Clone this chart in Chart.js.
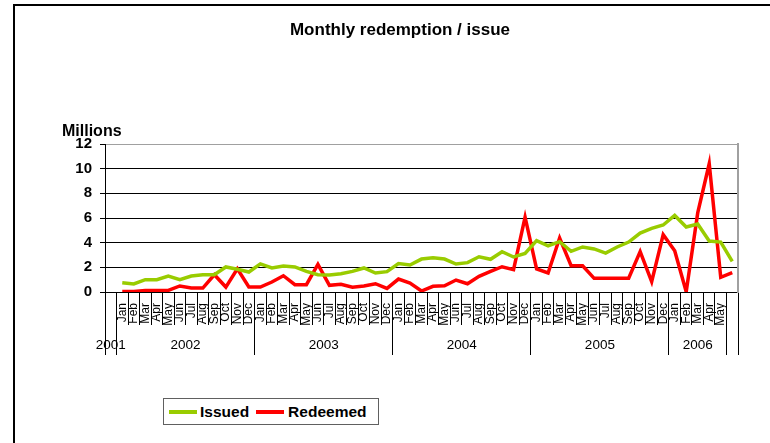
<!DOCTYPE html>
<html>
<head>
<meta charset="UTF-8">
<title>Monthly redemption / issue</title>
<script src="https://cdn.jsdelivr.net/npm/chart.js"></script>
<style>
  body { margin: 0; background: #fff; overflow: hidden; font-family: Arial, 'Liberation Sans', sans-serif; }
  #wrap { position: relative; width: 770px; height: 443px; overflow: hidden; }
  #frame { position: absolute; left: 13px; top: 4px; width: 800px; height: 500px; border-top: 2px solid #000; border-left: 2px solid #000; }
  #chart { position: absolute; left: 0; top: 0; }
  #legend { position: absolute; left: 163px; top: 398px; width: 214px; height: 25px; border: 1px solid #606060; background: #fff;
            display: flex; align-items: center; font-weight: bold; font-size: 15.5px; color: #000; }
  .sw { display: inline-block; width: 28px; height: 4px; }
</style>
</head>
<body>
<div id="wrap">
  <div id="frame"></div>
  <canvas id="chart" width="770" height="443"></canvas>
  <div id="legend"></div>
</div>
<script>
// categories: one blank slot for 2001, months 2002 - May 2006, one trailing blank slot
const months = ['',
  'Jan','Feb','Mar','Apr','May','Jun','Jul','Aug','Sep','Oct','Nov','Dec',
  'Jan','Feb','Mar','Apr','May','Jun','Jul','Aug','Sep','Oct','Nov','Dec',
  'Jan','Feb','Mar','Apr','May','Jun','Jul','Aug','Sep','Oct','Nov','Dec',
  'Jan','Feb','Mar','Apr','May','Jun','Jul','Aug','Sep','Oct','Nov','Dec',
  'Jan','Feb','Mar','Apr','May',
  ''];
const years = ['2001', '2002', '2003', '2004', '2005', '2006', ''];
const yearSpan = [1, 12, 12, 12, 12, 5, 1];

// values in millions
const issued = [null,
  0.75, 0.65, 1.0, 1.0, 1.3, 1.0, 1.3, 1.4, 1.4, 2.03, 1.85, 1.62,
  2.28, 1.95, 2.1, 2.03, 1.67, 1.4, 1.37, 1.48, 1.67, 1.95, 1.54, 1.65,
  2.3, 2.19, 2.67, 2.78, 2.67, 2.27, 2.38, 2.86, 2.65, 3.27, 2.84, 3.12,
  4.16, 3.75, 4.08, 3.3, 3.65, 3.49, 3.16, 3.65, 4.05, 4.78, 5.16, 5.43,
  6.21, 5.27, 5.51, 4.13, 4.05,
  2.48];
const redeemed = [null,
  0.05, 0.05, 0.13, 0.13, 0.13, 0.49, 0.32, 0.32, 1.4, 0.4, 1.88, 0.41,
  0.4, 0.81, 1.32, 0.59, 0.59, 2.24, 0.54, 0.62, 0.38, 0.48, 0.67, 0.29,
  1.05, 0.73, 0.08, 0.46, 0.51, 0.97, 0.67, 1.27, 1.67, 2.05, 1.81, 6.08,
  1.88, 1.54, 4.38, 2.13, 2.13, 1.11, 1.11, 1.11, 1.11, 3.27, 0.84, 4.65,
  3.35, 0.02, 6.41, 10.4, 1.19,
  1.57];

const seriesNames = ['Issued', 'Redeemed'];
const seriesColors = ['#99cc00', '#ff0000'];

// year row: boundaries between groups and the middle of each group
const yearBounds = [-0.5];
const yearCenters = [];
yearSpan.forEach((n, i) => {
  const start = yearBounds[i];
  yearCenters.push(start + n / 2);
  yearBounds.push(start + n);
});
yearCenters[0] = 0;

const FONT = "Arial, 'Liberation Sans', sans-serif";
Chart.defaults.font.family = FONT;
Chart.defaults.color = '#000';

const chart = new Chart(document.getElementById('chart'), {
  type: 'line',
  data: {
    labels: months,
    datasets: [
      { label: seriesNames[0], data: issued, borderColor: seriesColors[0], borderWidth: 3.5, pointRadius: 0, tension: 0 },
      { label: seriesNames[1], data: redeemed, borderColor: seriesColors[1], borderWidth: 3.5, pointRadius: 0, tension: 0 }
    ]
  },
  options: {
    responsive: false,
    animation: false,
    layout: { padding: { left: 62, right: 32, top: 0, bottom: 88 } },
    plugins: {
      legend: { display: false },
      tooltip: { enabled: false },
      title: {
        display: true, text: 'Monthly redemption / issue', color: '#000',
        font: { size: 17, weight: 'bold' }, padding: { top: 20, bottom: 0 }
      },
      subtitle: {
        display: true, text: 'Millions', align: 'start', color: '#000',
        font: { size: 16, weight: 'bold' }, padding: { top: 82, bottom: 2.4 }
      }
    },
    scales: {
      x: {
        type: 'category', position: 'bottom', weight: 1, offset: true,
        grid: { offset: true, drawOnChartArea: false, tickLength: 33, color: '#000' },
        border: { display: true, color: '#000', width: 1 },
        ticks: { autoSkip: false, minRotation: 90, maxRotation: 90, padding: -22, color: '#000', font: { size: 12 } },
        afterFit: s => { s.height = 33; }
      },
      x2: {
        type: 'linear', position: 'bottom', weight: 2, min: -0.5, max: 54.5,
        afterBuildTicks: s => {
          s.ticks = yearBounds.concat(yearCenters).sort((a, b) => a - b).map(v => ({ value: v }));
        },
        grid: {
          drawOnChartArea: false, tickLength: 30,
          color: c => (c.tick && yearBounds.includes(c.tick.value)) ? '#000' : 'rgba(0,0,0,0)'
        },
        border: { display: false },
        ticks: {
          autoSkip: false, maxRotation: 0, padding: -18, color: '#000', font: { size: 13.5 },
          callback: v => { const k = yearCenters.indexOf(v); return k >= 0 ? years[k] : ''; }
        },
        afterFit: s => { s.height = 30; }
      },
      y: {
        min: 0, max: 12,
        ticks: { stepSize: 2, padding: 8, color: '#000', font: { size: 15, weight: 'bold' } },
        grid: { color: c => (c.tick && c.tick.value === 12) ? '#a0a0a0' : '#000', tickColor: '#000', tickLength: 5 },
        border: { color: '#000' },
        afterFit: s => { s.width = 43; }
      },
      y2: {
        position: 'right', min: 0, max: 12,
        ticks: { display: false }, grid: { display: false },
        border: { display: true, color: '#a0a0a0', width: 2 },
        afterFit: s => { s.width = 0; }
      }
    }
  }
});

// legend box
const legend = document.getElementById('legend');
chart.data.datasets.forEach((ds, i) => {
  const sw = document.createElement('span');
  sw.className = 'sw';
  sw.style.background = ds.borderColor;
  sw.style.marginLeft = i === 0 ? '5px' : '7px';
  const tx = document.createElement('span');
  tx.textContent = ds.label;
  tx.style.marginLeft = i === 0 ? '3px' : '4px';
  legend.appendChild(sw);
  legend.appendChild(tx);
});
</script>
</body>
</html>
